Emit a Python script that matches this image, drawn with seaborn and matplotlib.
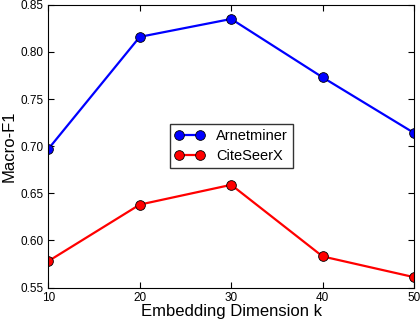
import matplotlib
matplotlib.use("Agg")
import matplotlib.pyplot as plt
import seaborn as sns
import pandas as pd

# data
dims = [10, 20, 30, 40, 50]
arnetminer = [0.697, 0.816, 0.835, 0.773, 0.714]
citeseerx = [0.578, 0.638, 0.659, 0.583, 0.561]

df = pd.DataFrame({
    "k": dims * 2,
    "f1": arnetminer + citeseerx,
    "dataset": ["Arnetminer"] * 5 + ["CiteSeerX"] * 5,
})

sns.set_style("ticks")
plt.rcParams['font.family'] = ['Liberation Sans', 'DejaVu Sans']
plt.rcParams['text.color'] = 'black'
plt.rcParams['axes.labelcolor'] = 'black'
plt.rcParams['xtick.color'] = 'black'
plt.rcParams['ytick.color'] = 'black'

fig, ax = plt.subplots(figsize=(4.2, 3.22), dpi=100)
sns.lineplot(data=df, x="k", y="f1", hue="dataset", palette=["#0000ff", "#ff0000"],
             marker="o", markersize=7, markeredgecolor="black", markeredgewidth=0.6,
             linewidth=1.6, ax=ax, legend=False)

for name, col in [("Arnetminer", "#0000ff"), ("CiteSeerX", "#ff0000")]:
    ax.plot([], [], color=col, marker="o", markersize=7, markeredgecolor="black",
            markeredgewidth=0.6, linewidth=1.6, label=name)

leg = ax.legend(loc="center", numpoints=2, fontsize=10.5, fancybox=False,
                borderpad=0.35, handlelength=2.0, labelspacing=0.4)
leg.get_frame().set_edgecolor("black")

ax.set_xlim(10, 50)
ax.set_ylim(0.55, 0.85)
ax.set_xticks(dims)
ax.set_yticks([0.55, 0.60, 0.65, 0.70, 0.75, 0.80, 0.85])
ax.set_yticklabels(["0.55", "0.60", "0.65", "0.70", "0.75", "0.80", "0.85"])
ax.tick_params(direction="in", top=True, right=True, labelsize=8.5, length=4)
ax.set_xlabel("Embedding Dimension k", fontsize=12, labelpad=0)
ax.set_ylabel("Macro-F1", fontsize=12, labelpad=3)
for s in ax.spines.values():
    s.set_color("black")

fig.subplots_adjust(left=0.115, right=0.986, top=0.985, bottom=0.107)
fig.savefig("out.png", dpi=100)
